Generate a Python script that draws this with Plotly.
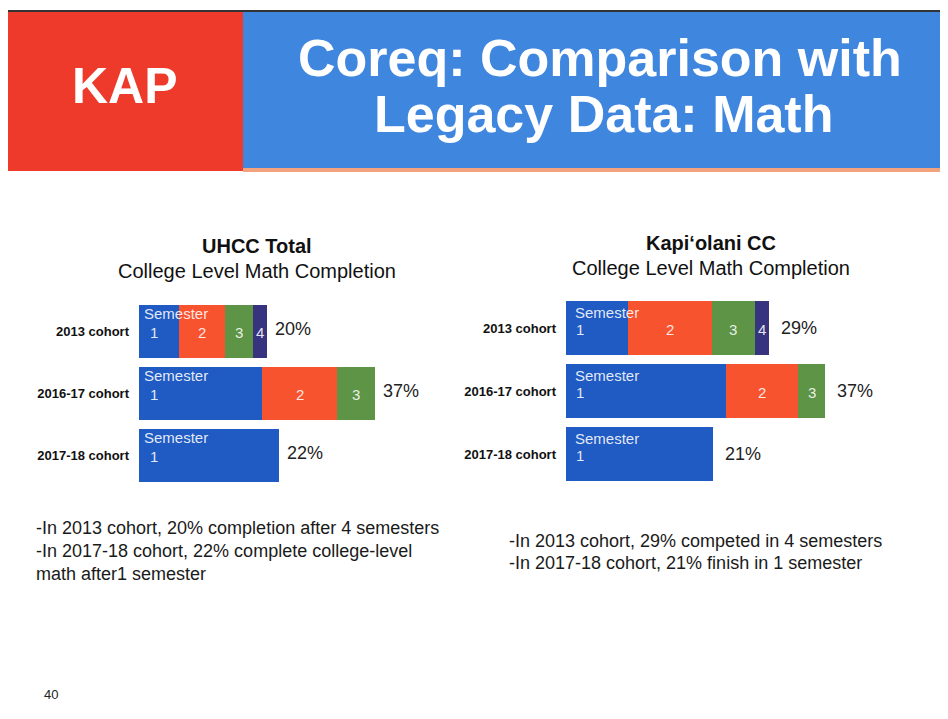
import plotly.graph_objects as go

# slide data (percent of cohort completing college-level math)
cohorts = ["2013 cohort", "2016-17 cohort", "2017-18 cohort"]
semesters = ["1", "2", "3", "4"]

uhcc_sem1 = [6.2, 19.3, 22]
uhcc_sem2 = [7.3, 11.8, None]
uhcc_sem3 = [4.3, 5.9, None]
uhcc_sem4 = [2.2, None, None]
uhcc_total = [20, 37, 22]

kap_sem1 = [8.9, 22.9, 21]
kap_sem2 = [11.9, 10.3, None]
kap_sem3 = [6.2, 3.8, None]
kap_sem4 = [2.0, None, None]
kap_total = [29, 37, 21]

uhcc_notes = ["-In 2013 cohort, 20% completion after 4 semesters",
              "-In 2017-18 cohort, 22% complete college-level",
              "math after1 semester"]
kap_notes = ["-In 2013 cohort, 29% competed in 4 semesters",
             "-In 2017-18 cohort, 21% finish in 1 semester"]

# colours
seg_colors = ["#1f5bc2", "#f7532f", "#5d9446", "#38337f"]
hdr_red = "#ee3a2a"
hdr_blue = "#3f86df"
FONT = "Liberation Sans"

# the page body adds an 8px margin, so the figure is drawn 8px smaller and
# reference pixel positions are shifted by that offset
OFF = 8
W, H = 948 - OFF, 719 - OFF


def px(x):
    return (x - OFF) / W


def py(y):
    return 1 - (y - OFF) / H


fig = go.Figure()

charts = [
    dict(xa="x", ya="y", sems=[uhcc_sem1, uhcc_sem2, uhcc_sem3, uhcc_sem4], total=uhcc_total),
    dict(xa="x2", ya="y2", sems=[kap_sem1, kap_sem2, kap_sem3, kap_sem4], total=kap_total),
]

for ch in charts:
    for s, vals in enumerate(ch["sems"]):
        fig.add_trace(go.Bar(
            x=vals, y=cohorts, orientation="h",
            marker=dict(color=seg_colors[s], line=dict(width=0)),
            xaxis=ch["xa"], yaxis=ch["ya"],
            showlegend=False, hoverinfo="skip",
        ))

annotations = []
label_font = dict(family=FONT, size=15, color="rgba(255,255,255,0.88)")

# per-chart label offsets (pixels)
offsets = [dict(sem_dx=3, one_dx=9, sem_dy=18, tot_dx=6, tot_dy=2),
           dict(sem_dx=7, one_dx=8, sem_dy=16, tot_dx=10, tot_dy=0)]


def note(x, y, text, size, color="#111111", xanchor="center", bold=False, **kw):
    annotations.append(dict(x=x, y=y, xref="paper", yref="paper",
                            text=f"<b>{text}</b>" if bold else text,
                            xanchor=xanchor, yanchor="middle", showarrow=False,
                            font=dict(family=FONT, size=size, color=color), **kw))


for ch, off in zip(charts, offsets):
    sems = ch["sems"]
    for i, c in enumerate(cohorts):
        # "Semester 1" label at the start of each bar
        annotations.append(dict(x=0, y=c, xref=ch["xa"], yref=ch["ya"], text="Semester",
                                xanchor="left", yanchor="middle", showarrow=False,
                                xshift=off["sem_dx"], yshift=off["sem_dy"], font=label_font))
        annotations.append(dict(x=0, y=c, xref=ch["xa"], yref=ch["ya"], text="1",
                                xanchor="left", yanchor="middle", showarrow=False,
                                xshift=off["one_dx"], yshift=-1, font=label_font))
        # semester numbers centred in later segments
        left = sems[0][i] or 0
        for s in range(1, 4):
            v = sems[s][i]
            if v is None:
                continue
            annotations.append(dict(x=left + v / 2, y=c, xref=ch["xa"], yref=ch["ya"],
                                    text=semesters[s], xanchor="center", yanchor="middle",
                                    showarrow=False, yshift=-1, font=label_font))
            left += v
        # total percentage
        annotations.append(dict(x=ch["total"][i], y=c, xref=ch["xa"], yref=ch["ya"],
                                text=f"{ch['total'][i]}%", xanchor="left", yanchor="middle",
                                showarrow=False, xshift=off["tot_dx"], yshift=off["tot_dy"],
                                font=dict(family=FONT, size=18, color="#222222")))

# chart titles
for cx, y1, y2, name in [(257, 246, 271, "UHCC Total"), (711, 243, 268, "Kapi\u2018olani CC")]:
    note(px(cx), py(y1), name, 20, bold=True)
    note(px(cx), py(y2), "College Level Math Completion", 20)

# header texts
note(px(125), py(86), "KAP", 50, color="white", bold=True)
note(px(600), py(58), "Coreq: Comparison with", 52, color="white", bold=True)
note(px(603), py(114), "Legacy Data: Math", 52, color="white", bold=True)

# bullet notes
for x0, ys, notes in [(34, [528, 551, 574], uhcc_notes), (507, [541, 563], kap_notes)]:
    for yy, t in zip(ys, notes):
        note(px(x0), py(yy), t, 18, color="#1a1a1a", xanchor="left")

note(px(42), py(694), "40", 13, color="#222222", xanchor="left")

shapes = [
    dict(type="rect", xref="paper", yref="paper", x0=px(243), x1=1, y0=py(169), y1=py(12),
         fillcolor=hdr_blue, line=dict(width=0), layer="below"),
    dict(type="rect", xref="paper", yref="paper", x0=px(243), x1=1, y0=py(172), y1=py(168),
         fillcolor="#f2a27c", line=dict(width=0), layer="below"),
    dict(type="rect", xref="paper", yref="paper", x0=px(7), x1=px(243), y0=py(171), y1=py(12),
         fillcolor=hdr_red, line=dict(width=0), layer="below"),
    dict(type="line", xref="paper", yref="paper", x0=px(6), x1=1, y0=py(11), y1=py(11),
         line=dict(color="#333333", width=2)),
    dict(type="line", xref="paper", yref="paper", x0=px(6), x1=px(6), y0=py(11), y1=0,
         line=dict(color="#222222", width=2)),
]

tick_font = dict(family=FONT, size=13, color="#111111", weight="bold")
xcommon = dict(range=[0, 40], showgrid=False, zeroline=False, showticklabels=False,
               showline=False, fixedrange=True)
ycommon = dict(type="category", categoryorder="array", categoryarray=cohorts,
               autorange="reversed", showgrid=False, zeroline=False, showline=False,
               ticks="", tickfont=tick_font, ticklabelstandoff=9)

fig.update_layout(
    width=W, height=H, autosize=False,
    margin=dict(l=0, r=0, t=0, b=0),
    paper_bgcolor="white", plot_bgcolor="rgba(0,0,0,0)",
    barmode="stack", bargap=0.14,
    xaxis=dict(domain=[px(139), px(139 + 6.38 * 40)], anchor="y", **xcommon),
    yaxis=dict(domain=[py(486), py(300.5)], anchor="x", **ycommon),
    xaxis2=dict(domain=[px(566), px(566 + 7.0 * 40)], anchor="y2", **xcommon),
    yaxis2=dict(domain=[py(485.5), py(296.5)], anchor="x2", **ycommon),
    annotations=annotations,
    shapes=shapes,
    font=dict(family=FONT),
)

fig.write_html("out.html")
